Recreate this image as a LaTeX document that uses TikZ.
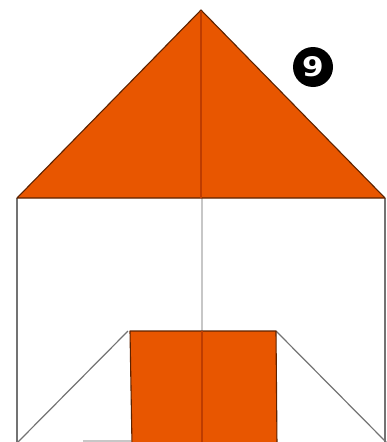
\documentclass[tikz,border=0pt]{standalone}
\usepackage{graphicx}
\usepackage{fontspec}
\setmainfont{DejaVu Sans}
\definecolor{foldorange}{RGB}{232,86,0}
\definecolor{foldcrease}{RGB}{190,60,0}
\tikzset{
	paperedge/.style={draw=black!55, line width=1.2pt},
	papercrease/.style={draw=black!22, line width=1.1pt},
	flapfill/.style={fill=foldorange, draw=black!60!foldorange, line width=1.1pt, line join=round},
	flapcrease/.style={draw=foldcrease, line width=1.5pt},
	stepbadge/.style={circle, fill=black, text=white, minimum size=40pt, inner sep=0pt, font=\bfseries\fontsize{27}{27}\selectfont}
}
\begin{document}
\begin{tikzpicture}[x=1pt, y=-1pt]
	\useasboundingbox (0,0) rectangle (387,442);
	\clip (0,0) rectangle (387,442);
	% outline of the paper
	\draw[paperedge] (17,198) -- (17,445);
	\draw[paperedge] (385,198) -- (385,445);
	\draw[papercrease] (202,198) -- (202,331);
	\draw[paperedge] (128,331) -- (17,443);
	\draw[paperedge] (276,331) -- (387,443);
	\draw[papercrease] (83,441) -- (131,441);
	% upper flap
	\filldraw[flapfill] (201,10) -- (385,198) -- (17,198) -- cycle;
	\draw[flapcrease] (201,11) -- (201,198);
	% lower flap
	\filldraw[flapfill] (130,331) -- (276,331) -- (277,445) -- (132,445) -- cycle;
	\draw[flapcrease] (202,331) -- (202,445);
	% step number
	\node[stepbadge] (stepnum) at (313,67) {\scalebox{1.15}[1]{9}};
\end{tikzpicture}
\end{document}
